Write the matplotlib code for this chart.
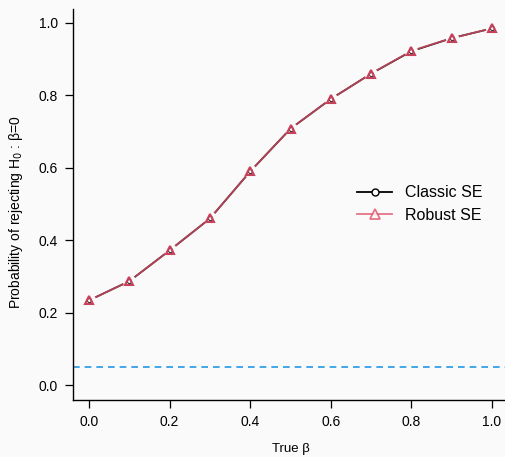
import numpy as np
import matplotlib
matplotlib.use("Agg")
import matplotlib.pyplot as plt
from matplotlib.lines import Line2D

plt.rcParams['font.family'] = ['Liberation Sans', 'DejaVu Sans']

beta = [0.0, 0.1, 0.2, 0.3, 0.4, 0.5, 0.6, 0.7, 0.8, 0.9, 1.0]
classic_se = [0.234, 0.287, 0.372, 0.460, 0.590, 0.708, 0.790, 0.860, 0.922, 0.958, 0.985]
robust_se = [0.234, 0.287, 0.372, 0.460, 0.590, 0.708, 0.790, 0.860, 0.923, 0.958, 0.985]
alpha_level = 0.05

bg = '#fafafa'
red = '#DF536B'
fig = plt.figure(figsize=(5.06, 4.57), dpi=100, facecolor=bg)
ax = fig.add_axes([0.1443, 0.1258, 0.8597, 0.8556], facecolor=bg)

# lines, then erase around points (R type="b" style gaps), then the symbols
ax.plot(beta, classic_se, color='black', lw=1.3, zorder=2)
ax.plot(beta, robust_se, color=red, alpha=0.8, lw=1.3, zorder=2)
ax.plot(beta, robust_se, ls='none', marker='o', ms=9.5, mfc=bg, mec='none', zorder=3)
ax.plot(beta, classic_se, ls='none', marker='o', ms=3, mfc='none', mec='#333333',
        mew=0.8, zorder=4)
ax.plot(beta, robust_se, ls='none', marker='^', ms=5.8, mfc='none', mec='#c9405a',
        mew=1.5, zorder=5)
ax.axhline(alpha_level, color='#2297E6', lw=1.2, ls=(0, (4, 3)), zorder=1)

ax.set_xlim(-0.04, 1.04)
ax.set_ylim(-0.04, 1.04)
ticks = np.arange(0, 1.01, 0.2)
ax.set_xticks(ticks)
ax.set_yticks(ticks)
ax.set_xticklabels([f'{v:.1f}' for v in ticks])
ax.set_yticklabels([f'{v:.1f}' for v in ticks])
for s in ['top', 'right']:
    ax.spines[s].set_visible(False)
for s in ['left', 'bottom']:
    ax.spines[s].set_linewidth(1.0)
ax.tick_params(direction='out', length=6, width=0.9, labelsize=10, pad=5)

ax.set_xlabel('True β', fontsize=9.5, labelpad=10)
ax.set_ylabel('Probability of rejecting H$_0$ : β=0', fontsize=10)
ax.yaxis.set_label_coords(-0.11, 0.48)

handles = [
    Line2D([], [], color='black', lw=1.3, marker='o', ms=5, mfc=bg, mew=1.0),
    Line2D([], [], color=red, alpha=0.8, lw=1.3, marker='^', ms=7, mfc=bg, mew=1.3),
]
ax.legend(handles, ['Classic SE', 'Robust SE'], loc='center left',
          bbox_to_anchor=(0.62, 0.50), frameon=False, fontsize=11.5,
          handlelength=2.2, handletextpad=0.8, labelspacing=0.45)

fig.savefig('out.png', dpi=100, facecolor=bg)
